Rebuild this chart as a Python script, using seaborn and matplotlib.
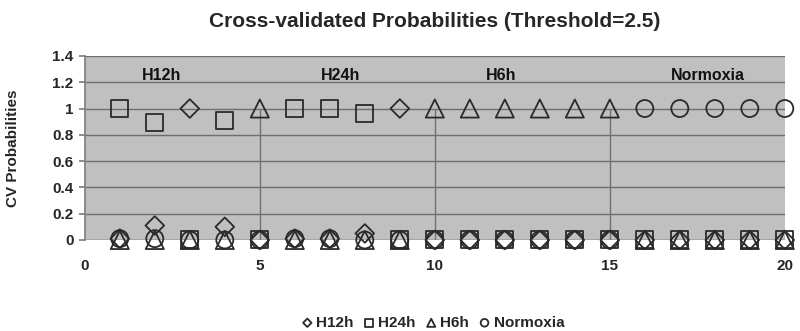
import numpy as np
import pandas as pd
import seaborn as sns
import matplotlib.pyplot as plt

samples = list(range(1, 21))
h12h = [0.01, 0.11, 1.0, 0.10, 0.0, 0.01, 0.01, 0.05, 1.0, 0.0,
        0.0, 0.0, 0.0, 0.0, 0.0, 0.0, 0.0, 0.0, 0.0, 0.0]
h24h = [1.0, 0.89, 0.0, 0.91, 0.0, 1.0, 1.0, 0.96, 0.0, 0.0,
        0.0, 0.0, 0.0, 0.0, 0.0, 0.0, 0.0, 0.0, 0.0, 0.0]
h6h = [0.0, 0.0, 0.0, 0.0, 1.0, 0.0, 0.0, 0.0, 0.0, 1.0,
       1.0, 1.0, 1.0, 1.0, 1.0, 0.0, 0.0, 0.0, 0.0, 0.0]
normoxia = [0.01, 0.01, 0.0, 0.0, 0.0, 0.01, 0.01, 0.0, 0.0, 0.0,
            0.0, 0.0, 0.0, 0.0, 0.0, 1.0, 1.0, 1.0, 1.0, 1.0]
series_names = ["H12h", "H24h", "H6h", "Normoxia"]
markers = ["D", "s", "^", "o"]
sizes = [90, 150, 170, 150]
group_labels = ["H12h", "H24h", "H6h", "Normoxia"]
group_label_x = [2.2, 7.3, 11.9, 17.8]
boundaries = [5, 10, 15]

sns.set_theme(style="white")
plt.rcParams['font.family'] = ['Liberation Sans', 'DejaVu Sans']
plt.rcParams['font.weight'] = 'bold'

fig = plt.figure(figsize=(8, 3.31), dpi=100)
ax = fig.add_axes([0.106, 0.275, 0.875, 0.556])
ax.set_facecolor('#c0c0c0')

for b in boundaries:
    ax.plot([b, b], [0, 1], color='#707070', lw=1, zorder=1)

for name, vals, m, s in zip(series_names, [h12h, h24h, h6h, normoxia], markers, sizes):
    df = pd.DataFrame({"sample": samples, "prob": vals})
    sns.scatterplot(data=df, x="sample", y="prob", marker=m, s=s, ax=ax,
                    facecolor='none', edgecolor='#2a2a2a', linewidth=1.3,
                    label=name, clip_on=False, zorder=3)

for lab, gx in zip(group_labels, group_label_x):
    ax.text(gx, 1.25, lab, ha='center', va='center', fontsize=11.5, fontweight='bold', color='#111')

ax.set_xlim(0, 20)
ax.set_ylim(0, 1.4)
ax.set_xticks([0, 5, 10, 15, 20])
ax.set_yticks(np.arange(0, 1.41, 0.2))
ax.set_yticklabels(["0", "0.2", "0.4", "0.6", "0.8", "1", "1.2", "1.4"])
ax.yaxis.grid(True, color='#6e6e6e', lw=1)
ax.set_axisbelow(True)
for sp in ['top', 'right', 'bottom']:
    ax.spines[sp].set_visible(False)
ax.spines['left'].set_color('#808080')
ax.axhline(0, color='#808080', lw=1, zorder=2)
ax.tick_params(axis='y', labelsize=11, length=4, color='#808080', left=True, pad=4)
ax.tick_params(axis='x', labelsize=11, length=0, pad=14)
for t in ax.get_xticklabels() + ax.get_yticklabels():
    t.set_fontweight('bold')
ax.set_xlabel("")
ax.set_ylabel("CV Probabilities", fontsize=11, fontweight='bold', labelpad=23)
ax.set_title("Cross-validated Probabilities (Threshold=2.5)", fontsize=15,
             fontweight='bold', pad=21)

leg = ax.legend(loc='center', bbox_to_anchor=(0.496, -0.45), ncol=4, frameon=False,
                markerscale=0.45, handlelength=1.0, handletextpad=0.1,
                columnspacing=0.5, prop={'weight': 'bold', 'size': 11})

fig.savefig("out.png", dpi=100)
